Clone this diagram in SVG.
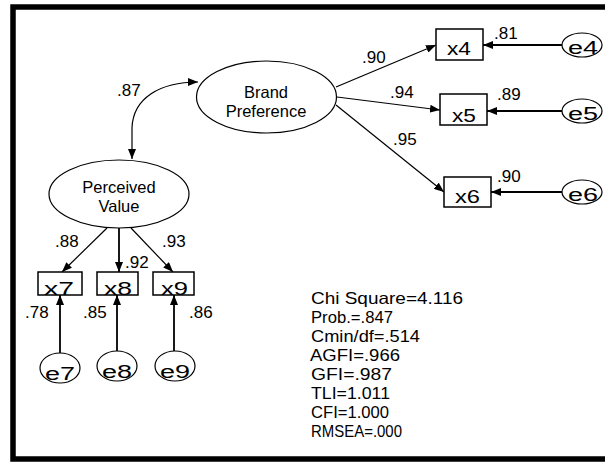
<svg xmlns="http://www.w3.org/2000/svg" width="605" height="462" viewBox="0 0 605 462">
<style>
text{font-family:"Liberation Sans",Arial,sans-serif;fill:#000}
.lbl{font-size:17px}
.nm{font-size:16.5px;text-anchor:middle}
.var{font-size:19px}
.ev{font-size:18px}
.st{font-size:16.5px}
.ov{fill:#fff;stroke:#000;stroke-width:1.2}
.bx{fill:#fff;stroke:#000;stroke-width:1.5}
.c{fill:none;stroke:#000;stroke-width:1.2}
.cs{fill:none;stroke:#000;stroke-width:1.8}
</style>
<defs>
<marker id="ah" markerUnits="userSpaceOnUse" markerWidth="10" markerHeight="8" refX="10" refY="4" orient="auto-start-reverse" viewBox="0 0 10 8">
<path d="M0,0 L10,4 L0,8 z" fill="#000"/>
</marker>
</defs>
<rect x="0" y="0" width="605" height="462" fill="#fff"/>
<rect x="13" y="7" width="600" height="452" fill="none" stroke="#000" stroke-width="5.5"/>
<g id="connectors">
<path class="c" d="M132,159 L132,128 C133,98 160,82 198,82" marker-start="url(#ah)" marker-end="url(#ah)"/>
<path class="c" d="M336,87 L436,45" marker-end="url(#ah)"/>
<path class="c" d="M337,97 L440,110" marker-end="url(#ah)"/>
<path class="c" d="M336,105 L444,192" marker-end="url(#ah)"/>
<path class="cs" d="M562,45 L483,45" marker-end="url(#ah)"/>
<path class="cs" d="M562,111 L487,111" marker-end="url(#ah)"/>
<path class="cs" d="M562,192 L491,192" marker-end="url(#ah)"/>
<path class="c" d="M107,228 L62,272" marker-end="url(#ah)"/>
<path class="cs" d="M119,228 L119,272" marker-end="url(#ah)"/>
<path class="c" d="M131,228 L173,272" marker-end="url(#ah)"/>
<path class="cs" d="M60,353 L60,295" marker-end="url(#ah)"/>
<path class="cs" d="M117,351 L117,295" marker-end="url(#ah)"/>
<path class="cs" d="M174,351 L174,295" marker-end="url(#ah)"/>
</g>
<g id="labels">
<text class="lbl" x="117" y="96">.87</text>
<text class="lbl" x="362" y="63">.90</text>
<text class="lbl" x="390" y="98">.94</text>
<text class="lbl" x="393" y="145">.95</text>
<text class="lbl" x="494" y="39">.81</text>
<text class="lbl" x="497" y="100">.89</text>
<text class="lbl" x="497" y="182">.90</text>
<text class="lbl" x="55" y="247">.88</text>
<text class="lbl" x="125" y="268">.92</text>
<text class="lbl" x="162" y="247">.93</text>
<text class="lbl" x="25" y="318">.78</text>
<text class="lbl" x="83" y="318">.85</text>
<text class="lbl" x="189" y="318">.86</text>
</g>
<g id="brand">
<ellipse class="ov" cx="266.5" cy="97" rx="70" ry="36"/>
<text class="nm" x="266" y="98">Brand</text>
<text class="nm" x="266" y="117">Preference</text>
</g>
<g id="perceived">
<ellipse class="ov" cx="119" cy="194" rx="70" ry="34"/>
<text class="nm" x="119" y="193">Perceived</text>
<text class="nm" x="119" y="212">Value</text>
</g>
<g id="x4"><rect class="bx" x="436" y="29" width="47" height="31"/><text class="var" x="447" y="55" textLength="24" lengthAdjust="spacingAndGlyphs">x4</text></g>
<g id="x5"><rect class="bx" x="440" y="94" width="47" height="31"/><text class="var" x="452" y="122" textLength="24" lengthAdjust="spacingAndGlyphs">x5</text></g>
<g id="x6"><rect class="bx" x="444" y="177" width="47" height="30"/><text class="var" x="455" y="203" textLength="25" lengthAdjust="spacingAndGlyphs">x6</text></g>
<g id="x7"><rect class="bx" x="38" y="272" width="44" height="23"/><text class="var" x="44" y="295" textLength="30" lengthAdjust="spacingAndGlyphs">x7</text></g>
<g id="x8"><rect class="bx" x="97" y="272" width="41" height="23"/><text class="var" x="104" y="295" textLength="28" lengthAdjust="spacingAndGlyphs">x8</text></g>
<g id="x9"><rect class="bx" x="153" y="272" width="41" height="23"/><text class="var" x="161" y="295" textLength="27" lengthAdjust="spacingAndGlyphs">x9</text></g>
<g id="e4"><ellipse class="ov" cx="582" cy="45" rx="20" ry="12"/><text class="ev" x="568" y="54" textLength="30" lengthAdjust="spacingAndGlyphs">e4</text></g>
<g id="e5"><ellipse class="ov" cx="582" cy="111" rx="20" ry="12"/><text class="ev" x="568" y="120" textLength="30" lengthAdjust="spacingAndGlyphs">e5</text></g>
<g id="e6"><ellipse class="ov" cx="582" cy="192" rx="20" ry="12"/><text class="ev" x="568" y="201" textLength="30" lengthAdjust="spacingAndGlyphs">e6</text></g>
<g id="e7"><ellipse class="ov" cx="60" cy="368" rx="20" ry="15"/><text class="ev" x="45" y="380" textLength="30" lengthAdjust="spacingAndGlyphs">e7</text></g>
<g id="e8"><ellipse class="ov" cx="117" cy="366" rx="20" ry="15"/><text class="ev" x="102" y="378" textLength="30" lengthAdjust="spacingAndGlyphs">e8</text></g>
<g id="e9"><ellipse class="ov" cx="175" cy="366" rx="20" ry="15"/><text class="ev" x="160" y="378" textLength="30" lengthAdjust="spacingAndGlyphs">e9</text></g>
<g id="stats">
<text class="st" x="311" y="304" textLength="152" lengthAdjust="spacingAndGlyphs">Chi Square=4.116</text>
<text class="st" x="311" y="323" textLength="82" lengthAdjust="spacingAndGlyphs">Prob.=.847</text>
<text class="st" x="311" y="342" textLength="109" lengthAdjust="spacingAndGlyphs">Cmin/df=.514</text>
<text class="st" x="310" y="361" textLength="90" lengthAdjust="spacingAndGlyphs">AGFI=.966</text>
<text class="st" x="311" y="380" textLength="81" lengthAdjust="spacingAndGlyphs">GFI=.987</text>
<text class="st" x="311" y="399" textLength="79" lengthAdjust="spacingAndGlyphs">TLI=1.011</text>
<text class="st" x="311" y="418" textLength="78" lengthAdjust="spacingAndGlyphs">CFI=1.000</text>
<text class="st" x="311" y="437" textLength="91" lengthAdjust="spacingAndGlyphs">RMSEA=.000</text>
</g>
</svg>
